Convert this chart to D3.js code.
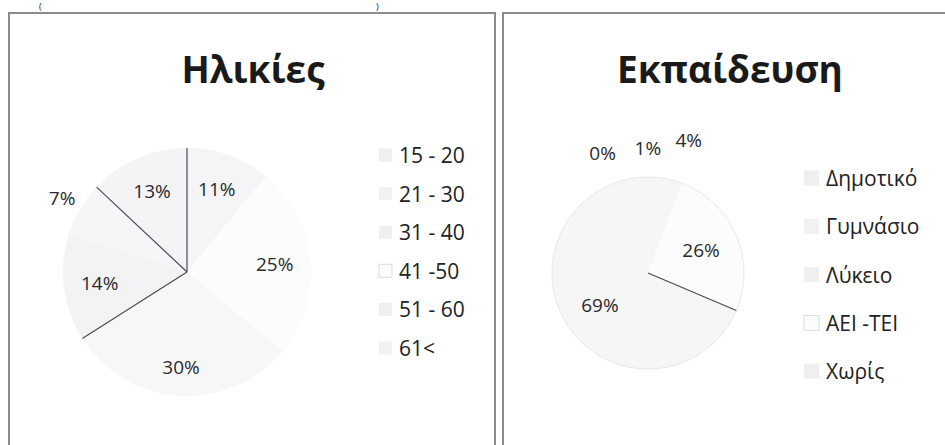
<!DOCTYPE html>
<html>
<head>
<meta charset="utf-8">
<script src="https://cdn.jsdelivr.net/npm/d3@7.9.0/dist/d3.min.js"></script>
<style>
  body { margin: 0; background: #fff; }
  svg { display: block; font-family: "Open Sans", "Noto Sans", sans-serif; }
</style>
</head>
<body>
<svg id="chart"></svg>
<script>
// data
const ageGroups = ['15 - 20', '21 - 30', '31 - 40', '41 -50', '51 - 60', '61<'];
const ageShares = [11, 25, 30, 14, 7, 13];
const eduLevels = ['Δημοτικό', 'Γυμνάσιο', 'Λύκειο', 'ΑΕΙ -ΤΕΙ', 'Χωρίς'];
const eduShares = [0.4, 1.2, 4.2, 25.6, 68.6];

// styling (the scan washed the colours out almost to white)
const ageColors = ['#f5f5f7', '#fcfcfc', '#f8f7f8', '#f3f3f5', '#f6f6f8', '#f4f4f6'];
const eduColors = ['#f5f5f7', '#f5f5f6', '#f6f6f7', '#fcfcfc', '#f6f5f7'];
const ageEdges = [0, 3, 5];   // slices whose start edge still shows as a dark line
const eduEdges = [4];
const eduOutsideNudge = [[-47, 5], [-8, 0], [12, -12]];

const width = 945;
const height = 445;

const svg = d3.select('#chart')
  .attr('width', width)
  .attr('height', height)
  .attr('viewBox', `0 0 ${width} ${height}`);

// remains of a line of text above the boxes
svg.append('text').attr('x', 39).attr('y', 10).attr('font-size', 9).attr('fill', '#222').text('(');
svg.append('text').attr('x', 376).attr('y', 10).attr('font-size', 9).attr('fill', '#222').text(')');

// panel frames
svg.append('rect')
  .attr('x', 9).attr('y', 13).attr('width', 486).attr('height', 460)
  .attr('fill', 'none').attr('stroke', '#8c8c8c').attr('stroke-width', 2);
svg.append('rect')
  .attr('x', 503).attr('y', 13).attr('width', 470).attr('height', 460)
  .attr('fill', 'none').attr('stroke', '#8c8c8c').attr('stroke-width', 2);

function drawPie(opts) {
  const { cx, cy, r, values, colors, edges, labelAt, nudge } = opts;
  const g = svg.append('g').attr('transform', `translate(${cx},${cy})`);
  const pie = d3.pie().sort(null).value(d => d);
  const arcs = pie(values);
  const arc = d3.arc().innerRadius(0).outerRadius(r);

  g.selectAll('path')
    .data(arcs)
    .join('path')
    .attr('d', arc)
    .attr('fill', (d, i) => colors[i]);

  if (opts.rim) {
    g.append('circle').attr('r', r).attr('fill', 'none')
      .attr('stroke', opts.rim).attr('stroke-width', 1);
  }

  g.selectAll('line.edge')
    .data(edges.map(i => arcs[i]))
    .join('line')
    .attr('class', 'edge')
    .attr('x1', 0).attr('y1', 0)
    .attr('x2', d => r * Math.sin(d.startAngle))
    .attr('y2', d => -r * Math.cos(d.startAngle))
    .attr('stroke', '#4d4a52')
    .attr('stroke-width', 1.2);

  g.selectAll('text.pct')
    .data(arcs)
    .join('text')
    .attr('class', 'pct')
    .attr('transform', (d, i) => {
      const a = (d.startAngle + d.endAngle) / 2;
      const rr = labelAt(d, i) * r;
      const n = nudge ? nudge(i) : [0, 0];
      return `translate(${rr * Math.sin(a) + n[0]},${-rr * Math.cos(a) + n[1]})`;
    })
    .attr('text-anchor', 'middle')
    .attr('dominant-baseline', 'central')
    .attr('font-size', 19)
    .attr('fill', '#2a2a2a')
    .text(d => Math.round(d.data) + '%');
}

function drawLegend(x, y0, step, size, names, colors) {
  const g = svg.append('g');
  const item = g.selectAll('g')
    .data(names)
    .join('g')
    .attr('transform', (d, i) => `translate(${x},${y0 + i * step})`);
  item.append('rect')
    .attr('x', 0).attr('y', -size / 2)
    .attr('width', size).attr('height', size)
    .attr('fill', (d, i) => colors[i])
    .attr('stroke', (d, i) => i === 3 ? '#dcdcdc' : 'none');
  item.append('text')
    .attr('x', size + 7)
    .attr('dominant-baseline', 'central')
    .attr('font-size', 21)
    .attr('fill', '#222')
    .text(d => d);
}

// left: ages
svg.append('text')
  .attr('x', 253).attr('y', 83)
  .attr('text-anchor', 'middle')
  .attr('font-size', 37).attr('font-weight', 'bold').attr('fill', '#1a1a1a')
  .text('Ηλικίες');

drawPie({
  cx: 187, cy: 272, r: 124,
  values: ageShares, colors: ageColors, edges: ageEdges,
  labelAt: d => (d.data < 10 ? 1.17 : (d.data >= 30 ? 0.77 : 0.71))
});
drawLegend(379, 155, 38.6, 13, ageGroups, ['#efeff0', '#f1f1f2', '#f0f0f1', '#fcfcfc', '#efeff1', '#f1f1f2']);

// right: education
svg.append('text')
  .attr('x', 730).attr('y', 83)
  .attr('text-anchor', 'middle')
  .attr('font-size', 37).attr('font-weight', 'bold').attr('fill', '#1a1a1a')
  .text('Εκπαίδευση');

drawPie({
  cx: 648, cy: 273, r: 96,
  values: eduShares, colors: eduColors, edges: eduEdges, rim: '#ebe5ed',
  labelAt: d => (d.data < 5 ? 1.3 : 0.6),
  nudge: i => eduOutsideNudge[i] || [0, 0]
});
drawLegend(804, 178, 48.3, 15, eduLevels, ['#efeff1', '#f1f1f2', '#f0f0f1', '#fcfcfc', '#efeff1']);
</script>
</body>
</html>
